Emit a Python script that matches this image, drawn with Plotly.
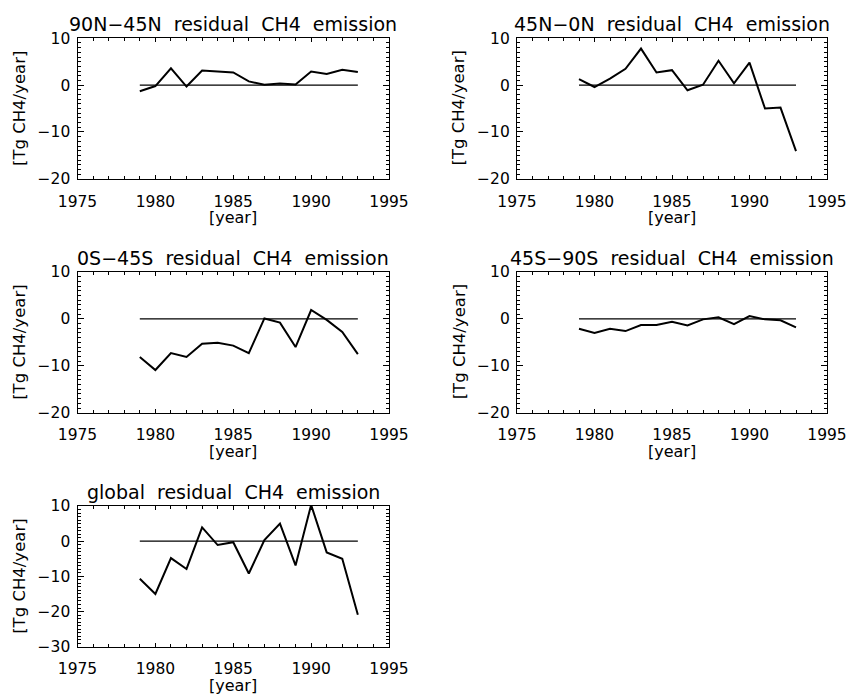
import plotly.graph_objects as go

years = [1979, 1980, 1981, 1982, 1983, 1984, 1985, 1986, 1987, 1988, 1989, 1990, 1991, 1992, 1993]

titles = [
    "90N\u221245N  residual  CH4  emission",
    "45N\u22120N  residual  CH4  emission",
    "0S\u221245S  residual  CH4  emission",
    "45S\u221290S  residual  CH4  emission",
    "global  residual  CH4  emission",
]

n90_45 = [-1.3, -0.2, 3.6, -0.3, 3.1, 2.9, 2.7, 0.8, 0.1, 0.35, 0.15, 2.9, 2.4, 3.3, 2.8]
n45_0 = [1.3, -0.4, 1.4, 3.5, 7.8, 2.7, 3.2, -1.1, 0.1, 5.2, 0.4, 4.8, -5.0, -4.8, -14.1]
s0_45 = [-8.1, -10.9, -7.3, -8.1, -5.3, -5.1, -5.7, -7.3, 0.1, -0.8, -6.0, 1.9, -0.2, -2.8, -7.5]
s45_90 = [-2.1, -3.0, -2.1, -2.6, -1.3, -1.3, -0.6, -1.4, -0.1, 0.35, -1.1, 0.6, -0.1, -0.3, -1.8]
glob = [-10.7, -15.0, -4.8, -7.9, 3.9, -1.1, -0.3, -9.2, 0.3, 5.0, -6.9, 10.3, -3.2, -5.0, -20.9]

series = [n90_45, n45_0, s0_45, s45_90, glob]
y_ranges = [[-20, 10], [-20, 10], [-20, 10], [-20, 10], [-30, 10]]
x_range = [1975, 1995]
x_tick_vals = [1975, 1980, 1985, 1990, 1995]
y_title = "[Tg CH4/year]"
x_title = "[year]"

W, H = 850, 694
# panel boxes in pixels (left, right, top, bottom)
boxes = [
    (77.5, 389, 38.3, 178.8),
    (517, 827, 38.3, 178.8),
    (77.5, 389, 272, 412.7),
    (517, 827, 272, 412.7),
    (77.5, 389, 506, 646.7),
]

FONT = "DejaVu Sans"
fig = go.Figure()
annotations = []
layout = dict(
    width=W, height=H,
    margin=dict(l=0, r=0, t=0, b=0),
    paper_bgcolor="white", plot_bgcolor="white",
    showlegend=False, template="none",
    font=dict(family=FONT, size=16, color="black"),
)

for i, (vals, title, yr, box) in enumerate(zip(series, titles, y_ranges, boxes)):
    k = "" if i == 0 else str(i + 1)
    xa, ya = "x" + k, "y" + k
    l, r, t, b = box
    xdom = [l / W, r / W]
    ydom = [1 - b / H, 1 - t / H]
    fig.add_trace(go.Scatter(x=years, y=[0] * len(years), mode="lines",
                             line=dict(color="black", width=1.3), xaxis=xa, yaxis=ya,
                             hoverinfo="skip"))
    fig.add_trace(go.Scatter(x=years, y=vals, mode="lines",
                             line=dict(color="black", width=2), xaxis=xa, yaxis=ya))
    layout["xaxis" + k] = dict(
        domain=xdom, range=x_range, anchor=ya, tickmode="array", tickvals=x_tick_vals,
        ticks="inside", ticklen=4, tickwidth=1.2, tickcolor="black",
        minor=dict(tickmode="linear", tick0=1975, dtick=1, ticks="inside", ticklen=2.5,
                   tickwidth=1.2, tickcolor="black", showgrid=False),
        showline=True, linecolor="black", linewidth=1.3, mirror="allticks",
        showgrid=False, zeroline=False,
        tickfont=dict(family=FONT, size=15.5, color="black"),
        ticklabelstandoff=8,
    )
    layout["yaxis" + k] = dict(
        domain=ydom, range=yr, anchor=xa, tickmode="linear", dtick=10, tick0=0,
        ticks="inside", ticklen=6, tickwidth=1.2, tickcolor="black",
        minor=dict(tickmode="linear", tick0=0, dtick=1, ticks="inside", ticklen=3,
                   tickwidth=1.2, tickcolor="black", showgrid=False),
        showline=True, linecolor="black", linewidth=1.3, mirror="allticks",
        showgrid=False, zeroline=False,
        tickfont=dict(family=FONT, size=15.5, color="black"),
        ticklabelstandoff=3,
    )
    cx = (l + r) / 2 / W
    annotations.append(dict(text=title, x=cx, y=1 - (t - 14) / H, xref="paper", yref="paper",
                            xanchor="center", yanchor="middle", showarrow=False,
                            font=dict(family=FONT, size=19, color="black")))
    annotations.append(dict(text=x_title, x=cx, y=1 - (b + 39) / H, xref="paper", yref="paper",
                            xanchor="center", yanchor="middle", showarrow=False,
                            font=dict(family=FONT, size=16, color="black")))
    annotations.append(dict(text=y_title, x=(l - 58) / W, y=1 - (t + b) / 2 / H,
                            xref="paper", yref="paper", textangle=-90,
                            xanchor="center", yanchor="middle", showarrow=False,
                            font=dict(family=FONT, size=16.5, color="black")))

layout["annotations"] = annotations
fig.update_layout(**layout)
fig.write_html("out.html")
